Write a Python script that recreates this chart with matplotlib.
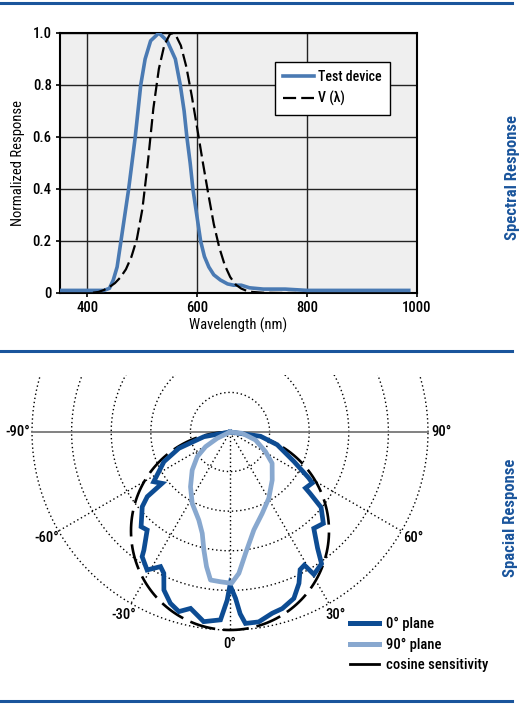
import matplotlib
matplotlib.use('Agg')
import matplotlib.pyplot as plt
from matplotlib.lines import Line2D
import numpy as np

plt.rcParams['font.family'] = ['Roboto Condensed', 'Liberation Sans Narrow', 'Roboto', 'DejaVu Sans']
plt.rcParams['font.size'] = 10
plt.rcParams['font.weight'] = 'medium'

# ---- spectral response data ----
wl_test = [350, 430, 440, 447, 454, 461, 468, 475, 481, 487, 492, 497, 505, 515,
           530, 545, 560, 569, 576, 581, 587, 592, 599, 606, 613, 621, 630, 642,
           655, 666, 680, 695, 720, 760, 800, 985]
resp_test = [0.01, 0.01, 0.018, 0.05, 0.1, 0.2, 0.3, 0.4, 0.5, 0.6, 0.7, 0.8, 0.9, 0.97,
             1.0, 0.97, 0.9, 0.8, 0.7, 0.6, 0.5, 0.4, 0.3, 0.2, 0.14, 0.1, 0.07, 0.05,
             0.035, 0.03, 0.03, 0.02, 0.015, 0.015, 0.01, 0.01]

wl_v = [410, 420, 430, 440, 450, 460, 470, 480, 490, 500, 510, 520, 530, 540, 550,
        555, 560, 570, 580, 590, 600, 610, 620, 630, 640, 650, 660, 670, 680, 690,
        700, 720, 750, 780]
resp_v = [0.0012, 0.004, 0.0116, 0.023, 0.038, 0.06, 0.091, 0.139, 0.208, 0.323,
          0.503, 0.71, 0.862, 0.954, 0.995, 1.0, 0.995, 0.952, 0.870, 0.757, 0.631,
          0.503, 0.381, 0.265, 0.175, 0.107, 0.061, 0.032, 0.017, 0.0082, 0.0041,
          0.001, 0.0001, 0.0]

x_ticks = [400, 600, 800, 1000]
y_ticks = [0, 0.2, 0.4, 0.6, 0.8, 1.0]
y_tick_labels = ['0', '0.2', '0.4', '0.6', '0.8', '1.0']

# ---- spatial response data (angle in degrees, relative radius) ----
ang_0 = [-90, -79.8, -72.3, -65.8, -56.9, -52.9, -52.0, -49.6, -43.2, -40.2, -36.1,
         -35.2, -31.0, -27.3, -25.1, -22.7, -19.2, -15.9, -12.6, -9.0, -7.9, -2.9,
         -0.95, 0.0, 1.9, 3.2, 4.6, 8.6, 13.1, 16.5, 21.0, 24.5, 27.0, 29.2, 30.5,
         34.8, 37.0, 41.0, 45.6, 50.4, 52.5, 53.4, 58.2, 59.7, 65.3, 74.9, 82.0, 90]
r_0 = [0.0, 0.134, 0.271, 0.366, 0.46, 0.43, 0.53, 0.582, 0.656, 0.648, 0.738,
       0.77, 0.813, 0.765, 0.788, 0.865, 0.916, 0.943, 0.913, 0.953, 0.967, 0.95,
       0.849, 0.773, 0.84, 0.92, 0.97, 0.97, 0.94, 0.93, 0.90, 0.84, 0.78, 0.77, 0.835,
       0.81, 0.735, 0.645, 0.66, 0.597, 0.51, 0.475, 0.489, 0.461, 0.355, 0.247, 0.156, 0.0]

ang_90 = [-90, -63.8, -59, -53, -44.8, -35.8, -27.9, -19.5, -15.3, -12.5, -9.9, -7.5,
          -3.6, 0.6, 3.6, 7.3, 13.7, 21.6, 30.3, 41.3, 53.4, 61, 72.6, 84, 90]
r_90 = [0.0, 0.072, 0.144, 0.207, 0.271, 0.341, 0.408, 0.472, 0.531, 0.61, 0.69, 0.754,
        0.758, 0.764, 0.715, 0.618, 0.509, 0.442, 0.388, 0.323, 0.265, 0.205, 0.135, 0.062, 0.0]

ang_cos = np.arange(-90, 91, 1)
grid_radii = [0.2, 0.4, 0.6, 0.8, 1.0]
spoke_angles = [-60, -30, 0, 30, 60]
label_angles = [-90, -60, -30, 0, 30, 60, 90]
label_texts = ['-90°', '-60°', '-30°', '0°', '30°', '60°', '90°']

BLUE_TEST = '#4a7ab3'
DARK_BLUE = '#0d4c93'
LIGHT_BLUE = '#88a8cf'
RULE_BLUE = '#1a559c'

W, H = 529, 707
fig = plt.figure(figsize=(W / 100, H / 100), dpi=100)

# separator rules
for ypx in [3, 351, 701]:
    fig.add_artist(Line2D([0, 512 / W], [1 - ypx / H] * 2, color=RULE_BLUE, lw=2.2,
                          transform=fig.transFigure))

# ---------------- top: spectral response ----------------
ax = fig.add_axes([60 / W, 1 - 293 / H, 357 / W, 260 / H])
ax.set_facecolor('#efefef')
ax.plot(wl_test, resp_test, color=BLUE_TEST, lw=2.6, solid_joinstyle='round',
        label='Test device', zorder=3)
ax.plot(wl_v, resp_v, color='black', lw=1.6, dashes=(5.9, 2.3),
        label='V (λ)', zorder=4)
ax.set_xlim(350, 1000)
ax.set_ylim(0, 1.0)
ax.set_xticks(x_ticks)
ax.set_yticks(y_ticks)
ax.set_yticklabels(y_tick_labels)
ax.grid(True, color='#222222', lw=1.0)
ax.set_axisbelow(True)
for s in ax.spines.values():
    s.set_linewidth(1.5)
ax.tick_params(direction='out', length=3, width=1.2, pad=3, labelsize=10.5)
ax.set_xlabel('Wavelength (nm)', fontsize=10.5)
ax.set_ylabel('Normalized Response', fontsize=10.5)
ax.xaxis.set_label_coords(0.5, -0.095)
ax.yaxis.set_label_coords(-0.098, 0.5)
leg = ax.legend(loc='upper left', bbox_to_anchor=(275 / W, 1 - 62 / H),
                bbox_transform=fig.transFigure, borderaxespad=0, fancybox=False,
                framealpha=1, edgecolor='black', handlelength=2.2, handletextpad=0.3,
                borderpad=0.6, labelspacing=0.5, fontsize=10)
leg.get_frame().set_linewidth(1.0)

fig.text(512 / W, 1 - 178 / H, 'Spectral Response', rotation=90, ha='center',
         va='center', color=RULE_BLUE, fontsize=12, fontweight='bold')

# ---------------- bottom: spatial response ----------------
ox, oy, scale = 230, 432, 198
pax = fig.add_axes([0, 1 - 660 / H, 460 / W, 285 / H])
pax.set_xlim((0 - ox) / scale, (460 - ox) / scale)
pax.set_ylim(-(660 - oy) / scale, (oy - 375) / scale)
pax.axis('off')


def to_xy(angles, radii):
    t = np.radians(np.asarray(angles, dtype=float))
    r = np.asarray(radii, dtype=float)
    return r * np.sin(t), -r * np.cos(t)


circ = np.linspace(0, 2 * np.pi, 361)
for rr in grid_radii:
    pax.plot(rr * np.cos(circ), rr * np.sin(circ), color='black', lw=1.0,
             ls=(0, (1, 2)))
for a in spoke_angles:
    sx, sy = to_xy([a, a], [0, 1])
    pax.plot(sx, sy, color='black', lw=1.0, ls=(0, (1, 2)))
hx, hy = to_xy([-90, 90], [1, 1])
pax.plot(hx, hy, color='#777777', lw=1.3)

cx, cy = to_xy(ang_cos, np.cos(np.radians(ang_cos)))
pax.plot(cx, cy, color='black', lw=1.9, dashes=(9.8, 3.0), zorder=3)
x0, y0 = to_xy(ang_0, r_0)
pax.plot(x0, y0, color=DARK_BLUE, lw=3.4, solid_joinstyle='miter', zorder=4)
x9, y9 = to_xy(ang_90, r_90)
pax.plot(x9, y9, color=LIGHT_BLUE, lw=3.4, solid_joinstyle='round', zorder=5)

for a, txt in zip(label_angles, label_texts):
    lx, ly = to_xy([a], [1.07])
    pax.text(lx[0], ly[0], txt, ha='center', va='center', fontsize=10.5)

handles = [Line2D([], [], color=DARK_BLUE, lw=3.6),
           Line2D([], [], color=LIGHT_BLUE, lw=3.6),
           Line2D([], [], color='black', lw=2.0)]
pax.legend(handles, ['0° plane', '90° plane', 'cosine sensitivity'], loc='upper left',
           bbox_to_anchor=(350 / W, 1 - 617 / H), bbox_transform=fig.transFigure,
           frameon=False, borderaxespad=0, borderpad=0, handlelength=2.0,
           handletextpad=0.5, labelspacing=0.45, fontsize=10.5)

fig.text(510 / W, 1 - 518 / H, 'Spacial Response', rotation=90, ha='center',
         va='center', color=RULE_BLUE, fontsize=12, fontweight='bold')

fig.savefig('out.png', dpi=100)
